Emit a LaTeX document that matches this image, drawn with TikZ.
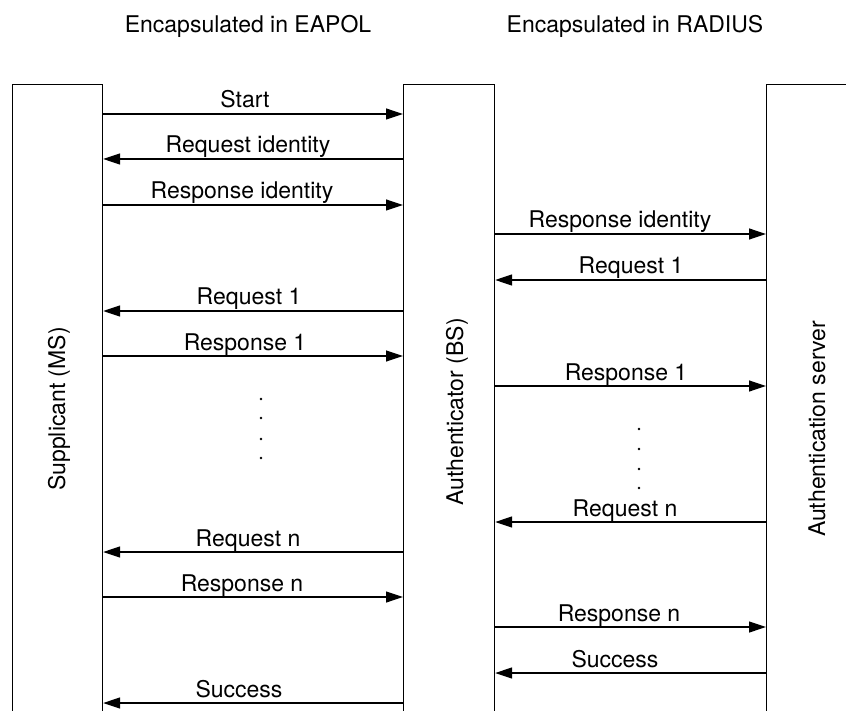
\documentclass[tikz,border=0pt]{standalone}
\usepackage{fontspec}
\setmainfont{TeX Gyre Heros}
\usetikzlibrary{arrows.meta}
\begin{document}
\begin{tikzpicture}[x=1pt,y=-1pt,
  font=\fontsize{23}{27}\selectfont,
  line width=1.2pt,
  lifeline/.style={draw, inner sep=0pt, anchor=north west},
  msg/.style={-{Triangle[length=17pt,width=11pt]}},
  lbl/.style={anchor=base, inner sep=0pt},
  vlbl/.style={anchor=base, rotate=90, inner sep=0pt},
  dotmark/.style={fill=black}]
\useasboundingbox (0,0) rectangle (846,711);

% headers
\node[lbl] (h1) at (248,33) {Encapsulated in EAPOL};
\node[lbl] (h2) at (635,33) {Encapsulated in RADIUS};

% lifeline boxes (open at the bottom, beyond the page)
\node[lifeline, minimum width=90pt, minimum height=680pt] (sup) at (12,84) {};
\node[lifeline, minimum width=91pt, minimum height=680pt] (auth) at (403,84) {};
\node[lifeline, minimum width=140pt, minimum height=680pt] (srv) at (766,84) {};

% vertical labels
\node[vlbl] (tsup) at (65,409) {Supplicant (MS)};
\node[vlbl] (tauth) at (463,412) {Authenticator (BS)};
\node[vlbl] (tsrv) at (825,429) {Authentication server};

% left messages
\draw[msg] (sup.east |- 0,114) -- (auth.west |- 0,114);
\node[lbl] (l1) at (245,108) {Start};
\draw[msg] (auth.west |- 0,159) -- (sup.east |- 0,159);
\node[lbl] (l2) at (248,153) {Request identity};
\draw[msg] (sup.east |- 0,205) -- (auth.west |- 0,205);
\node[lbl] (l3) at (242,199) {Response identity};
\draw[msg] (auth.west |- 0,311) -- (sup.east |- 0,311);
\node[lbl] (l4) at (249,305) {Request 1};
\draw[msg] (sup.east |- 0,356) -- (auth.west |- 0,356);
\node[lbl] (l5) at (245,350) {Response 1};
\draw[msg] (auth.west |- 0,552) -- (sup.east |- 0,552);
\node[lbl] (l6) at (248,546) {Request n};
\draw[msg] (sup.east |- 0,597) -- (auth.west |- 0,597);
\node[lbl] (l7) at (242,591) {Response n};
\draw[msg] (auth.west |- 0,703) -- (sup.east |- 0,703);
\node[lbl] (l8) at (239,697) {Success};

% right messages
\draw[msg] (auth.east |- 0,234) -- (srv.west |- 0,234);
\node[lbl] (r1) at (620,228) {Response identity};
\draw[msg] (srv.west |- 0,280) -- (auth.east |- 0,280);
\node[lbl] (r2) at (631,274) {Request 1};
\draw[msg] (auth.east |- 0,386) -- (srv.west |- 0,386);
\node[lbl] (r3) at (626,380) {Response 1};
\draw[msg] (srv.west |- 0,522) -- (auth.east |- 0,522);
\node[lbl] (r4) at (625,516) {Request n};
\draw[msg] (auth.east |- 0,627) -- (srv.west |- 0,627);
\node[lbl] (r5) at (619,621) {Response n};
\draw[msg] (srv.west |- 0,673) -- (auth.east |- 0,673);
\node[lbl] (r6) at (615,667) {Success};

% ellipsis dots
\foreach \yy in {399,418,439,458} \fill[dotmark] (261,\yy) circle (1.3pt);
\foreach \yy in {429,449,469,488} \fill[dotmark] (639,\yy) circle (1.3pt);
\end{tikzpicture}
\end{document}
